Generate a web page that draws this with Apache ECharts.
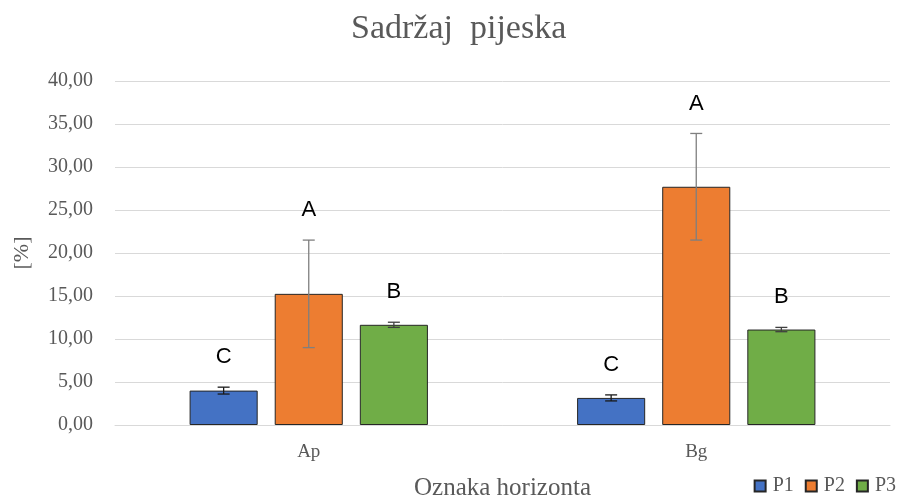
<!DOCTYPE html>
<html>
<head>
<meta charset="utf-8">
<script src="https://cdn.jsdelivr.net/npm/echarts@6/dist/echarts.min.js"></script>
<style>
html, body { margin: 0; padding: 0; background: #fff; }
#chart { width: 901px; height: 497px; }
</style>
</head>
<body>
<div id="chart"></div>
<script>
// podaci
const categories = ['Ap', 'Bg'];
const seriesNames = ['P1', 'P2', 'P3'];
const p1 = [4.0, 3.15];
const p2 = [15.25, 27.7];
const p3 = [11.65, 11.1];
const err1 = [0.4, 0.35];
const err2 = [6.25, 6.2];
const err3 = [0.3, 0.25];
const letters1 = ['C', 'C'];
const letters2 = ['A', 'A'];
const letters3 = ['B', 'B'];
const yTicks = [0, 5, 10, 15, 20, 25, 30, 35, 40];

const colors = ['#4472c4', '#ed7d31', '#70ad47'];
const errColors = ['#1a1a1a', '#7f7f7f', '#404040'];
const catGap = 0.385, barGap = 0.25;

const values = [p1, p2, p3];
const errs = [err1, err2, err3];
const letters = [letters1, letters2, letters3];

let chart = echarts.init(document.getElementById('chart'));

const serif = '"Liberation Serif", "Times New Roman", serif';

let barSeries = seriesNames.map((name, s) => ({
	name: name,
	type: 'bar',
	barGap: (barGap * 100) + '%',
	barCategoryGap: (catGap * 100) + '%',
	itemStyle: {
		color: colors[s],
		borderColor: '#262626',
		borderWidth: 1
	},
	data: values[s]
}));

// error bars + slova
let errSeries = seriesNames.map((name, s) => ({
	name: name,
	type: 'custom',
	z: 5,
	silent: true,
	data: categories.map((c, i) => [i, values[s][i], errs[s][i]]),
	renderItem: (params, api) => {
		let idx = api.value(0);
		let val = api.value(1);
		let e = api.value(2);
		let band = api.size([1, 0])[0];
		let bw = band * (1 - catGap) / (3 + 2 * barGap);
		let x = api.coord([idx, val])[0] + (s - 1) * bw * (1 + barGap);
		let yHi = api.coord([idx, val + e])[1];
		let yLo = api.coord([idx, val - e])[1];
		let cap = 6;
		let st = { stroke: errColors[s], lineWidth: 1.3 };
		return {
			type: 'group',
			children: [
				{ type: 'line', shape: { x1: x, y1: yHi, x2: x, y2: yLo }, style: st },
				{ type: 'line', shape: { x1: x - cap, y1: yHi, x2: x + cap, y2: yHi }, style: st },
				{ type: 'line', shape: { x1: x - cap, y1: yLo, x2: x + cap, y2: yLo }, style: st },
				{
					type: 'text',
					style: {
						text: letters[s][idx],
						x: x,
						y: yHi - 30,
						align: 'center',
						verticalAlign: 'middle',
						fill: '#000',
						font: '22px "Liberation Sans", Arial, sans-serif'
					}
				}
			]
		};
	}
}));

let option = {
	animation: false,
	color: colors,
	title: {
		text: 'Sadržaj  pijeska',
		left: 346,
		top: 7,
		textStyle: {
			fontFamily: serif,
			fontSize: 34,
			fontWeight: 'normal',
			color: '#595959'
		}
	},
	legend: {
		data: seriesNames,
		right: 0,
		top: 471,
		itemWidth: 11,
		itemHeight: 11,
		itemGap: 11,
		icon: 'rect',
		textStyle: {
			fontFamily: serif,
			fontSize: 20,
			color: '#595959',
			padding: [0, 0, 0, 2]
		}
	},
	grid: {
		left: 115,
		right: 11,
		top: 81,
		height: 344,
		outerBoundsMode: 'none'
	},
	xAxis: {
		type: 'category',
		data: categories,
		name: 'Oznaka horizonta',
		nameLocation: 'middle',
		nameGap: 51,
		nameTextStyle: {
			fontFamily: serif,
			fontSize: 25,
			color: '#595959'
		},
		axisLine: { lineStyle: { color: '#d9d9d9', width: 1 } },
		axisTick: { show: false },
		axisLabel: {
			fontFamily: serif,
			fontSize: 19,
			color: '#595959',
			margin: 18
		}
	},
	yAxis: {
		type: 'value',
		min: yTicks[0],
		max: yTicks[yTicks.length - 1],
		interval: 5,
		name: '[%]',
		nameLocation: 'middle',
		nameGap: 82,
		nameRotate: 90,
		nameTextStyle: {
			fontFamily: serif,
			fontSize: 22,
			color: '#595959'
		},
		axisLine: { show: false },
		axisTick: { show: false },
		splitLine: { lineStyle: { color: '#d9d9d9', width: 1 } },
		axisLabel: {
			fontFamily: serif,
			fontSize: 20,
			color: '#595959',
			margin: 22,
			formatter: v => v.toFixed(2).replace('.', ',')
		}
	},
	series: barSeries.concat(errSeries)
};

chart.setOption(option);
</script>
</body>
</html>
